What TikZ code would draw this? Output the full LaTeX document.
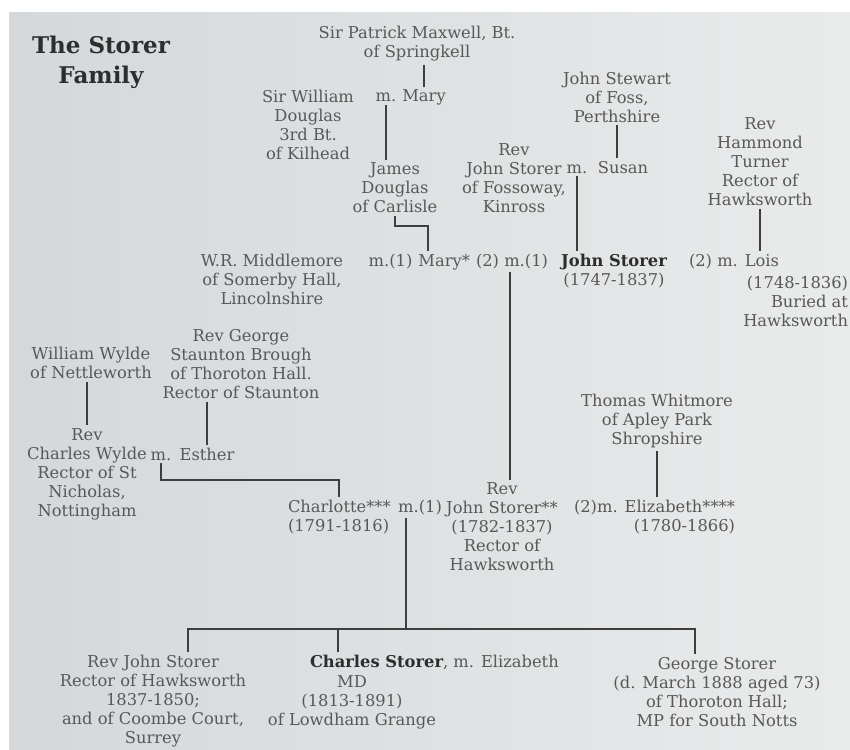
\documentclass[tikz,border=0pt]{standalone}
\usepackage{fontspec}
\setmainfont{DejaVu Serif}
\usetikzlibrary{positioning}
\definecolor{panelL}{RGB}{212,216,219}
\definecolor{panelR}{RGB}{233,235,235}
\definecolor{inkgray}{RGB}{88,88,88}
\definecolor{inkdark}{RGB}{45,45,45}
\definecolor{linegray}{RGB}{62,62,62}
\newcommand{\bname}[1]{\textcolor{inkdark}{\bfseries #1}}

\begin{document}
\begin{tikzpicture}[
    x=1pt, y=-1pt,
    person/.style={
        align=center,
        inner sep=0pt,
        outer sep=3pt,
        text=inkgray,
        font=\fontsize{16.3}{19}\selectfont
    },
    heading/.style={
        align=center,
        inner sep=0pt,
        text=inkdark,
        font=\fontsize{23}{30}\selectfont\bfseries
    },
    line/.style={
        draw=linegray,
        line width=1.8pt
    }
]

\fill[white] (0,0) rectangle (850,749);
\shade[left color=panelL, right color=panelR] (9,13) rectangle (850,749);
\useasboundingbox (0,0) rectangle (850,749);

\node[heading] (title) at (101,62) {The Storer\\Family};

% top generations
\node[person] (patrick) at (417,44) {Sir Patrick Maxwell, Bt.\\of Springkell};
\node[person] (william) at (308,125) {Sir William\\Douglas\\3rd Bt.\\of Kilhead};
\node[person, anchor=base] (mM) at (386,102) {m.};
\node[person, anchor=base] (mary) at (424,102) {Mary};
\node[person] (james) at (395,188) {James\\Douglas\\of Carlisle};

\node[person] (stewart) at (617,97) {John Stewart\\of Foss,\\Perthshire};
\node[person] (fossoway) at (514,178) {Rev\\John Storer\\of Fossoway,\\Kinross};
\node[person, anchor=base] (mS) at (577,173) {m.};
\node[person, anchor=base] (susan) at (623,173) {Susan};
\node[person] (hammond) at (760,162) {Rev\\Hammond\\Turner\\Rector of\\Hawksworth};

% John Storer and his wives
\node[person] (middlemore) at (272,279) {W.R. Middlemore\\of Somerby Hall,\\Lincolnshire};
\node[person, anchor=base east] (m2) at (551,266) {(2) m.(1)};
\node[person, base left=0pt of m2] (mary2) {Mary*};
\node[person, base left=0pt of mary2] (m1) {m.(1)};
\node[person] (jstorer) at (614,271) {\bname{John Storer}\\(1747-1837)};
\node[person, anchor=base west] (lois) at (686,266) {(2) m. Lois};
\node[person, align=right, anchor=east] (loisnote) at (851,301) {(1748-1836)\\Buried at\\Hawksworth};

% Wylde and Brough side
\node[person] (wwylde) at (91,363) {William Wylde\\of Nettleworth};
\node[person] (brough) at (241,364) {Rev George\\Staunton Brough\\of Thoroton Hall.\\Rector of Staunton};
\node[person] (cwylde) at (87,474) {Rev\\Charles Wylde\\Rector of St\\Nicholas,\\Nottingham};
\node[person, anchor=base] (mE) at (161,460) {m.};
\node[person, anchor=base] (esther) at (207,460) {Esther};

% Rev John Storer and his wives
\node[person, align=left, anchor=west] (charlotte) at (285,517) {Charlotte***\\(1791-1816)};
\node[person, anchor=base] (mC) at (420,512) {m.(1)};
\node[person] (revjs) at (502,527) {Rev\\John Storer**\\(1782-1837)\\Rector of\\Hawksworth};
\node[person] (thomas) at (657,421) {Thomas Whitmore\\of Apley Park\\Shropshire};
\node[person, align=right, anchor=east] (eliz) at (738,517) {(2)m. Elizabeth****\\(1780-1866)};

% children
\node[person] (jstorer2) at (153,701) {Rev John Storer\\Rector of Hawksworth\\1837-1850;\\and of Coombe Court,\\Surrey};
\node[person, anchor=base west] (charles) at (307,667) {\bname{Charles Storer}, m. Elizabeth};
\node[person] (charlesnote) at (352,702) {MD\\(1813-1891)\\of Lowdham Grange};
\node[person] (george) at (717,692) {George Storer\\(d. March 1888 aged 73)\\of Thoroton Hall;\\MP for South Notts};

\coordinate (barL) at (188,629);
\coordinate (barM) at (338,629);
\coordinate (barC) at (406,629);
\coordinate (barR) at (695,629);

\draw[line] (patrick.south -| mary.north) -- (mary.north);
\draw[line] (mM.south) -- (mM.south |- james.north);
\draw[line] (james.south) -- ++(0,10) -| ([xshift=-16pt]mary2.north);
\draw[line] (stewart.south) -- (stewart.south |- susan.north);
\draw[line] (mS.south) -- (mS.south |- jstorer.north);
\draw[line] (hammond.south) -- (hammond.south |- lois.north);
\draw[line] ([xshift=-2pt]m2.south) -- ([xshift=-2pt]m2.south |- revjs.north);
\draw[line] (cwylde.north |- wwylde.south) -- (cwylde.north);
\draw[line] (esther.north |- brough.south) -- (esther.north);
\draw[line] (mE.south) -- ++(0,17) -| (charlotte.north);
\draw[line] (thomas.south) -- (thomas.south |- eliz.north);
\draw[line] (barC |- mC.south) -- (barC);
\draw[line] (barL |- jstorer2.north) -- (barL) -- (barR) -- (barR |- george.north);
\draw[line] (barM) -- (barM |- charles.north);

\end{tikzpicture}
\end{document}
